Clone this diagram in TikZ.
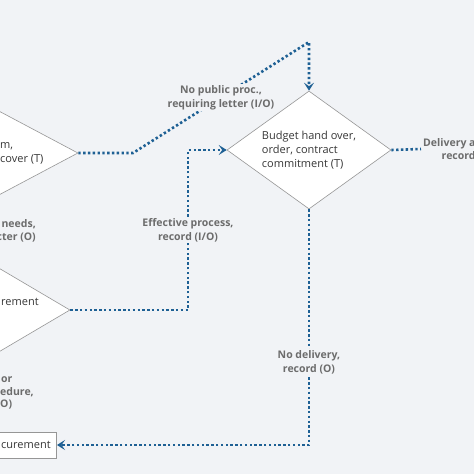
\documentclass[tikz,border=0pt]{standalone}
\usepackage{fontspec}
\setmainfont{Open Sans}
\usetikzlibrary{arrows.meta, positioning, shapes.geometric}
\definecolor{PanelGray}{RGB}{241, 243, 246}
\definecolor{EdgeGray}{RGB}{150, 150, 150}
\definecolor{TextDark}{RGB}{55, 55, 55}
\definecolor{LabelGray}{RGB}{108, 108, 108}
\definecolor{FlowBlue}{RGB}{30, 96, 148}

\begin{document}
\begin{tikzpicture}[
    x=1pt, y=-1pt,
    font=\fontsize{11}{14}\selectfont,
    decision/.style={
        diamond,
        shape aspect=1.39,         % wide, flat diamonds
        draw=EdgeGray,             % thin grey outline
        fill=white,
        line width=0.6pt,
        inner sep=0pt,
        align=left,
        text=TextDark
    },
    proc_box/.style={
        draw=EdgeGray,
        fill=white,
        line width=0.6pt,
        minimum height=26pt,
        inner xsep=6pt,
        text=TextDark
    },
    flow/.style={
        ->,
        >={Stealth[length=8pt, width=10pt, inset=3.5pt]},
        draw=FlowBlue,
        line width=2.6pt,
        dash pattern=on 2.4pt off 2.4pt
    },
    flow_label/.style={
        fill=PanelGray,
        font=\bfseries\fontsize{10.5}{14}\selectfont,
        text=LabelGray,
        align=center,
        inner sep=1.5pt
    },
    cut_label/.style={
        font=\bfseries\fontsize{10.5}{12.5}\selectfont,
        text=LabelGray,
        inner sep=0pt
    },
    cut_text/.style={
        text=TextDark,
        align=left,
        inner sep=0pt
    }
]

    % --- frame (the picture is a cut-out of a larger chart) ---
    \useasboundingbox (0,0) rectangle (474,474);
    \clip (0,0) rectangle (474,474);
    \fill[PanelGray] (0,0) rectangle (474,474);

    % --- decisions ---
    \node[decision, minimum width=222pt, minimum height=118pt] (formDec) at (-33,153) {};
    \node[decision, minimum width=200pt, minimum height=118pt] (needsDec) at (-30,310) {};
    \node[decision, minimum width=164pt, minimum height=118pt] (budget) at (309,150)
        {Budget hand over,\\order, contract\\commitment (T)};
    \node[proc_box, anchor=east] (procBox) at (57,445) {curement};

    % visible ends of the cut texts
    \node[cut_text, anchor=west] (formTxt) at (0,153.5) {m,\\cover (T)};
    \node[cut_text, anchor=west] (needsTxt) at (1,302) {rement};
    \node[cut_label, align=right, anchor=east] (needsLbl) at (36,231) {needs,\\cter (O)};
    \node[cut_label, align=left, anchor=west] (procLbl) at (0,393) {\hspace*{1pt}or\\edure,\\O)};
    \node[cut_label, align=right, anchor=west] (delivLbl) at (423,149) {Delivery a\\record};

    % bends
    \coordinate (bendA) at (133,153);
    \coordinate (bendB) at (budget.north |- 0,42);
    \coordinate (bendC) at (188,310);
    \coordinate (bendD) at (bendC |- budget.west);
    \coordinate (bendE) at (budget.south |- procBox.east);

    % --- connectors ---
    \draw[flow] (formDec.east) -- (bendA)
        -- node[flow_label] {No public proc.,\\requiring letter (I/O)} (bendB) -- (budget.north);

    \draw[flow] (needsDec.east) -- (bendC)
        -- node[flow_label] {Effective process,\\record (I/O)} (bendD) -- (budget.west);

    \draw[flow] (budget.south)
        -- node[flow_label, pos=0.65] {No delivery,\\record (O)} (bendE) -- (procBox.east);

    \draw[flow, -] (budget.east) -- ([xshift=-2pt]delivLbl.west);

\end{tikzpicture}
\end{document}
